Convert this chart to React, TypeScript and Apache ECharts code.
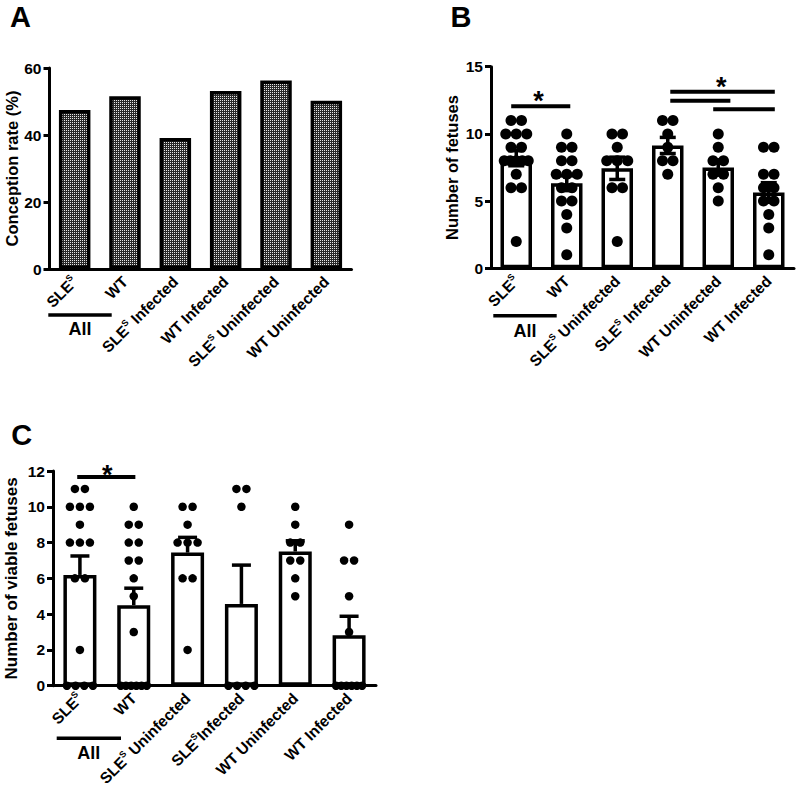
import React, { useEffect, useRef } from "react";
import * as echarts from "echarts";

const FONT = "'Liberation Sans', Arial, Helvetica, sans-serif";

// ---------- Panel A ----------
const categoriesA = ["SLE^S", "WT", "SLE^S Infected", "WT Infected", "SLE^S Uninfected", "WT Uninfected"];
const conceptionRate = [47.5, 51.6, 39.1, 53.1, 56.3, 50.2];
const yTicksA = { min: 0, max: 60, interval: 20 };

// ---------- Panel B (number of fetuses) ----------
const categoriesB = ["SLE^S", "WT", "SLE^S Uninfected", "SLE^S Infected", "WT Uninfected", "WT Infected"];
const fetusesSLEAll = [11, 11, 10, 10, 10, 9, 9, 8, 8, 8, 8, 8, 7, 6, 6, 2];
const fetusesWTAll = [10, 9, 9, 8, 8, 7, 7, 7, 6, 6, 5, 5, 4, 3, 1];
const fetusesSLEUninf = [10, 10, 9, 8, 8, 8, 6, 6, 2];
const fetusesSLEInf = [11, 11, 10, 9, 8, 8, 7];
const fetusesWTUninf = [10, 9, 8, 8, 7, 7, 6, 5];
const fetusesWTInf = [9, 9, 7, 7, 6, 6, 5, 5, 4, 3, 1];
const meanB = [8.19, 6.33, 7.44, 9.14, 7.5, 5.64];
const semB = [0.56, 0.55, 0.83, 0.6, 0.57, 0.73];
const yTicksB = { min: 0, max: 15, interval: 5 };
// significance lines: [anchor, fromCat, toCat, y]
const sigLinesB = [
  [0, -0.1, 1.07, 12.05],
  [0, 3.05, 5.12, 13.14],
  [0, 3.05, 4.24, 12.47],
  [0, 3.9, 5.12, 11.83],
];
const sigStarsB = [
  [0, 0.44, 12.42],
  [0, 4.06, 13.5],
];

// ---------- Panel C (number of viable fetuses) ----------
const categoriesC = ["SLE^S", "WT", "SLE^S Uninfected", "SLE^SInfected", "WT Uninfected", "WT Infected"];
const viableSLEAll = [11, 11, 10, 10, 10, 9, 8, 8, 8, 6, 6, 2, 0, 0, 0, 0];
const viableWTAll = [10, 9, 9, 8, 8, 7, 7, 6, 5, 3, 0, 0, 0, 0, 0, 0];
const viableSLEUninf = [10, 10, 9, 8, 8, 8, 6, 6, 2];
const viableSLEInf = [11, 11, 10, 0, 0, 0, 0];
const viableWTUninf = [10, 9, 8, 8, 7, 7, 6, 5];
const viableWTInf = [9, 7, 7, 5, 3, 0, 0, 0, 0, 0, 0];
const meanC = [6.19, 4.5, 7.44, 4.57, 7.5, 2.82];
const semC = [1.06, 0.95, 0.85, 2.17, 0.6, 1.06];
const yTicksC = { min: 0, max: 12, interval: 2 };
const sigLinesC = [[0, -0.05, 1.03, 11.66]];
const sigStarsC = [[0, 0.51, 11.76]];

const groupsB = [fetusesSLEAll, fetusesWTAll, fetusesSLEUninf, fetusesSLEInf, fetusesWTUninf, fetusesWTInf];
const groupsC = [viableSLEAll, viableWTAll, viableSLEUninf, viableSLEInf, viableWTUninf, viableWTInf];

const richLabel = (v: string) => {
  const parts = v.split("^S");
  if (parts.length === 1) return `{n|${v}}`;
  return `{n|${parts[0]}}{s|S}` + (parts[1] ? `{n|${parts[1]}}` : "");
};

const xLabelRich = {
  n: { fontSize: 15.5, fontWeight: "bold", fontFamily: FONT, color: "#000", lineHeight: 18 },
  s: { fontSize: 9, fontWeight: "bold", fontFamily: FONT, color: "#000", lineHeight: 10, verticalAlign: "top" },
};

// horizontal spreading of equal values (layout of the dot columns)
function spreadOffsets(values: number[], spacing: number, maxSpan: number) {
  const counts: Record<number, number> = {};
  const seen: Record<number, number> = {};
  values.forEach((v) => (counts[v] = (counts[v] || 0) + 1));
  return values.map((v) => {
    const k = counts[v];
    const i = (seen[v] = (seen[v] ?? -1) + 1);
    const s = k > 1 ? Math.min(spacing, maxSpan / (k - 1)) : 0;
    return (i - (k - 1) / 2) * s;
  });
}

function dotData(groups: number[][], spacing: number, maxSpan: number) {
  const out: any[] = [];
  groups.forEach((g, gi) => {
    const offs = spreadOffsets(g, spacing, maxSpan);
    g.forEach((v, j) => out.push({ value: [gi, v], symbolOffset: [offs[j], 0] }));
  });
  return out;
}

const patternUrl =
  "data:image/svg+xml;charset=utf-8," +
  encodeURIComponent(
    "<svg xmlns='http://www.w3.org/2000/svg' width='2' height='2' shape-rendering='crispEdges'><rect width='2' height='2' fill='#2a2a2a'/><rect width='1' height='1' fill='#e8e8e8'/></svg>"
  );

function xAxisCfg(gridIndex: number, cats: string[]) {
  return {
    type: "category",
    gridIndex,
    data: cats,
    axisLine: { lineStyle: { color: "#000", width: 3 } },
    axisTick: { alignWithLabel: true, length: 5, lineStyle: { color: "#000", width: 3 } },
    axisLabel: {
      interval: 0,
      rotate: 45,
      margin: 10,
      formatter: richLabel,
      rich: xLabelRich,
    },
  };
}

function yAxisCfg(gridIndex: number, ticks: any, name: string, nameGap: number, nameSize: number) {
  return {
    type: "value",
    gridIndex,
    min: ticks.min,
    max: ticks.max,
    interval: ticks.interval,
    name,
    nameLocation: "middle",
    nameGap,
    nameRotate: 90,
    nameTextStyle: { fontSize: nameSize, fontWeight: "bold", fontFamily: FONT, color: "#000" },
    axisLine: { show: true, lineStyle: { color: "#000", width: 3 } },
    axisTick: { show: true, length: 6, lineStyle: { color: "#000", width: 3 } },
    axisLabel: { margin: 8, fontSize: 15.5, fontWeight: "bold", fontFamily: FONT, color: "#000" },
    splitLine: { show: false },
  };
}

function errorSeries(axisIdx: number, means: number[], sems: number[], cap: number, twoSided: boolean) {
  return {
    type: "custom",
    xAxisIndex: axisIdx,
    yAxisIndex: axisIdx,
    z: 6,
    silent: true,
    data: means.map((m, i) => [i, m, sems[i]]),
    encode: { x: 0, y: 1 },
    renderItem: (_p: any, api: any) => {
      const i = api.value(0);
      const m = api.value(1);
      const s = api.value(2);
      const top = api.coord([i, m + s]);
      const bot = api.coord([i, twoSided ? m - s : m]);
      const style = { stroke: "#000", lineWidth: 3.5 };
      const children: any[] = [
        { type: "line", shape: { x1: top[0], y1: top[1], x2: bot[0], y2: bot[1] }, style },
        { type: "line", shape: { x1: top[0] - cap / 2, y1: top[1], x2: top[0] + cap / 2, y2: top[1] }, style },
      ];
      if (twoSided) {
        children.push({ type: "line", shape: { x1: bot[0] - cap / 2, y1: bot[1], x2: bot[0] + cap / 2, y2: bot[1] }, style });
      }
      return { type: "group", children };
    },
  };
}

function sigLineSeries(axisIdx: number, lines: number[][]) {
  return {
    type: "custom",
    xAxisIndex: axisIdx,
    yAxisIndex: axisIdx,
    z: 7,
    silent: true,
    data: lines,
    encode: { x: 0, y: 3 },
    renderItem: (_p: any, api: any) => {
      const y = api.value(3);
      const p0 = api.coord([0, y]);
      const p1 = api.coord([1, y]);
      const step = p1[0] - p0[0];
      return {
        type: "line",
        shape: { x1: p0[0] + api.value(1) * step, y1: p0[1], x2: p0[0] + api.value(2) * step, y2: p0[1] },
        style: { stroke: "#000", lineWidth: 4 },
      };
    },
  };
}

function sigStarSeries(axisIdx: number, stars: number[][]) {
  return {
    type: "custom",
    xAxisIndex: axisIdx,
    yAxisIndex: axisIdx,
    z: 7,
    silent: true,
    data: stars,
    encode: { x: 0, y: 2 },
    renderItem: (_p: any, api: any) => {
      const y = api.value(2);
      const p0 = api.coord([0, y]);
      const p1 = api.coord([1, y]);
      const step = p1[0] - p0[0];
      return {
        type: "text",
        x: p0[0] + api.value(1) * step,
        y: p0[1],
        style: {
          text: "*",
          font: `bold 27px ${FONT}`,
          fill: "#000",
          textAlign: "center",
          textVerticalAlign: "middle",
          align: "center",
          verticalAlign: "middle",
        },
      };
    },
  };
}

const allLabel = (x1: number, x2: number, y: number, ty: number) => [
  { type: "line", shape: { x1, y1: y, x2, y2: y }, style: { stroke: "#000", lineWidth: 3.5 } },
  {
    type: "text",
    x: (x1 + x2) / 2,
    y: ty,
    style: {
      text: "All",
      font: `bold 18px ${FONT}`,
      fill: "#000",
      textAlign: "center",
      textVerticalAlign: "middle",
      align: "center",
      verticalAlign: "middle",
    },
  },
];

const panelLetter = (t: string, x: number, y: number) => ({
  type: "text",
  x,
  y,
  style: {
    text: t,
    font: `bold 29px ${FONT}`,
    fill: "#000",
    textAlign: "center",
    textVerticalAlign: "middle",
    align: "center",
    verticalAlign: "middle",
  },
});

export default function App() {
  const ref = useRef<HTMLDivElement>(null);
  useEffect(() => {
    if (!ref.current) return;
    const chart = echarts.init(ref.current, undefined, { renderer: "svg" });
    const option: any = {
      animation: false,
      backgroundColor: "#fff",
      grid: [
        { left: 49.5, top: 68, width: 302, height: 201 },
        { left: 491, top: 66.7, width: 303, height: 201.6 },
        { left: 53, top: 471, width: 323, height: 214.7 },
      ],
      xAxis: [xAxisCfg(0, categoriesA), xAxisCfg(1, categoriesB), xAxisCfg(2, categoriesC)],
      yAxis: [
        yAxisCfg(0, yTicksA, "Conception rate (%)", 29, 16.5),
        yAxisCfg(1, yTicksB, "Number of fetuses", 31, 16.5),
        yAxisCfg(2, yTicksC, "Number of viable fetuses", 33, 17),
      ],
      series: [
        {
          type: "bar",
          xAxisIndex: 0,
          yAxisIndex: 0,
          data: conceptionRate,
          barWidth: 31.5,
          z: 2,
          itemStyle: {
            color: { image: patternUrl, repeat: "repeat", imageWidth: 2, imageHeight: 2 },
            borderColor: "#000",
            borderWidth: 3.5,
          },
        },
        {
          type: "bar",
          xAxisIndex: 1,
          yAxisIndex: 1,
          data: meanB,
          barWidth: 31.5,
          z: 2,
          itemStyle: { color: "#fff", borderColor: "#000", borderWidth: 3.5 },
        },
        {
          type: "scatter",
          xAxisIndex: 1,
          yAxisIndex: 1,
          data: dotData(groupsB, 10.5, 24),
          symbol: "circle",
          symbolSize: 11,
          z: 4,
          itemStyle: { color: "#000", opacity: 1 },
        },
        errorSeries(1, meanB, semB, 16, true),
        sigLineSeries(1, sigLinesB),
        sigStarSeries(1, sigStarsB),
        {
          type: "bar",
          xAxisIndex: 2,
          yAxisIndex: 2,
          data: meanC,
          barWidth: 33,
          z: 2,
          itemStyle: { color: "#fff", borderColor: "#000", borderWidth: 3.5 },
        },
        {
          type: "scatter",
          xAxisIndex: 2,
          yAxisIndex: 2,
          data: dotData(groupsC, 10, 26),
          symbol: "circle",
          symbolSize: 8.5,
          z: 4,
          itemStyle: { color: "#000", opacity: 1 },
        },
        errorSeries(2, meanC, semC, 19, false),
        sigLineSeries(2, sigLinesC),
        sigStarSeries(2, sigStarsC),
      ],
      graphic: [
        panelLetter("A", 20.5, 17),
        panelLetter("B", 461, 17),
        panelLetter("C", 21.7, 435),
        ...allLabel(48.3, 111.7, 315, 329),
        ...allLabel(493.3, 556.7, 315.7, 331),
        ...allLabel(56.7, 121, 738.3, 753.3),
      ],
    };
    chart.setOption(option);
    return () => chart.dispose();
  }, []);
  return (
    <div
      ref={ref}
      style={{ position: "absolute", left: 0, top: 0, width: 799, height: 794, background: "#fff" }}
    />
  );
}
